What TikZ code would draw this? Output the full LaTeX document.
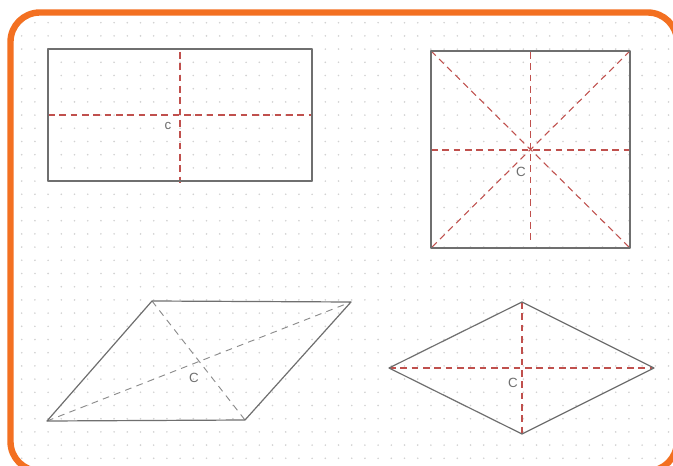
\documentclass[tikz,border=0pt]{standalone}
\usepackage{fontspec}
\setmainfont{Liberation Sans}
\definecolor{frameorange}{HTML}{F37021}
\definecolor{pencil}{HTML}{6F6F6F}
\definecolor{redpen}{HTML}{C0504D}
\definecolor{dotgray}{HTML}{D2D2D2}
\begin{document}
\begin{tikzpicture}[x=0.75pt,y=-0.75pt,
  outline/.style={draw=pencil,line width=0.9pt,line join=round},
  reddash/.style={draw=redpen,line width=0.8pt,dash pattern=on 5pt off 3.5pt},
  graydash/.style={draw=pencil!80,line width=0.7pt,dash pattern=on 5pt off 4pt},
  clabel/.style={text=pencil,font=\fontsize{10}{10}\selectfont,inner sep=0pt}]
\useasboundingbox (0,0) rectangle (673,466);
\fill[white] (0,0) rectangle (673,466);
% dot grid
\begin{scope}
\clip[rounded corners=22] (11,13) rectangle (677,471);
\foreach \i in {0,...,50}{
  \foreach \j in {0,...,35}{
    \fill[dotgray] ({8.5+13.2*\i},{9.5+13.2*\j}) circle (0.9);
  }
}
\end{scope}
% frame
\begin{scope}
\clip (0,0) rectangle (673,466);
\draw[frameorange,line width=4.8pt,rounded corners=22] (10.5,12.5) rectangle (677,471);
\end{scope}
% rectangle
\coordinate (r1) at (48,49); \coordinate (r2) at (312,181);
\coordinate (rv1) at (180,52); \coordinate (rv2) at (180,186);
\coordinate (rh1) at (48,115); \coordinate (rh2) at (312,115);
\draw[reddash] (rv1) -- (rv2);
\draw[reddash] (rh1) -- (rh2);
\draw[outline] (r1) rectangle (r2);
\node[clabel] (c1) at (168,126) {c};
% square
\coordinate (sa) at (431,51); \coordinate (sb) at (630,51);
\coordinate (sc) at (630,248); \coordinate (sd) at (431,248);
\coordinate (sv1) at (530.5,52); \coordinate (sv2) at (530.5,243);
\coordinate (sh1) at (431,150); \coordinate (sh2) at (630,150);
\draw[reddash] (sv1) -- (sv2);
\draw[reddash] (sh1) -- (sh2);
\draw[reddash] (sa) -- (sc);
\draw[reddash] (sb) -- (sd);
\draw[outline] (sa) -- (sb) -- (sc) -- (sd) -- cycle;
\node[clabel] (c2) at (521,172) {C};
% parallelogram
\coordinate (pa) at (152,301); \coordinate (pb) at (351,302);
\coordinate (pc) at (245,420); \coordinate (pd) at (47,421);
\draw[graydash] (pa) -- (pc);
\draw[graydash] (pd) -- (pb);
\draw[outline] (pa) -- (pb) -- (pc) -- (pd) -- cycle;
\node[clabel] (c3) at (194,378) {C};
% kite
\coordinate (ka) at (389,368); \coordinate (kb) at (522,302);
\coordinate (kc) at (654,368); \coordinate (kd) at (522,434);
\draw[reddash] (ka) -- (kc);
\draw[reddash] (kb) -- (kd);
\draw[outline] (ka) -- (kb) -- (kc) -- (kd) -- cycle;
\node[clabel] (c4) at (513,383) {C};
\end{tikzpicture}
\end{document}
